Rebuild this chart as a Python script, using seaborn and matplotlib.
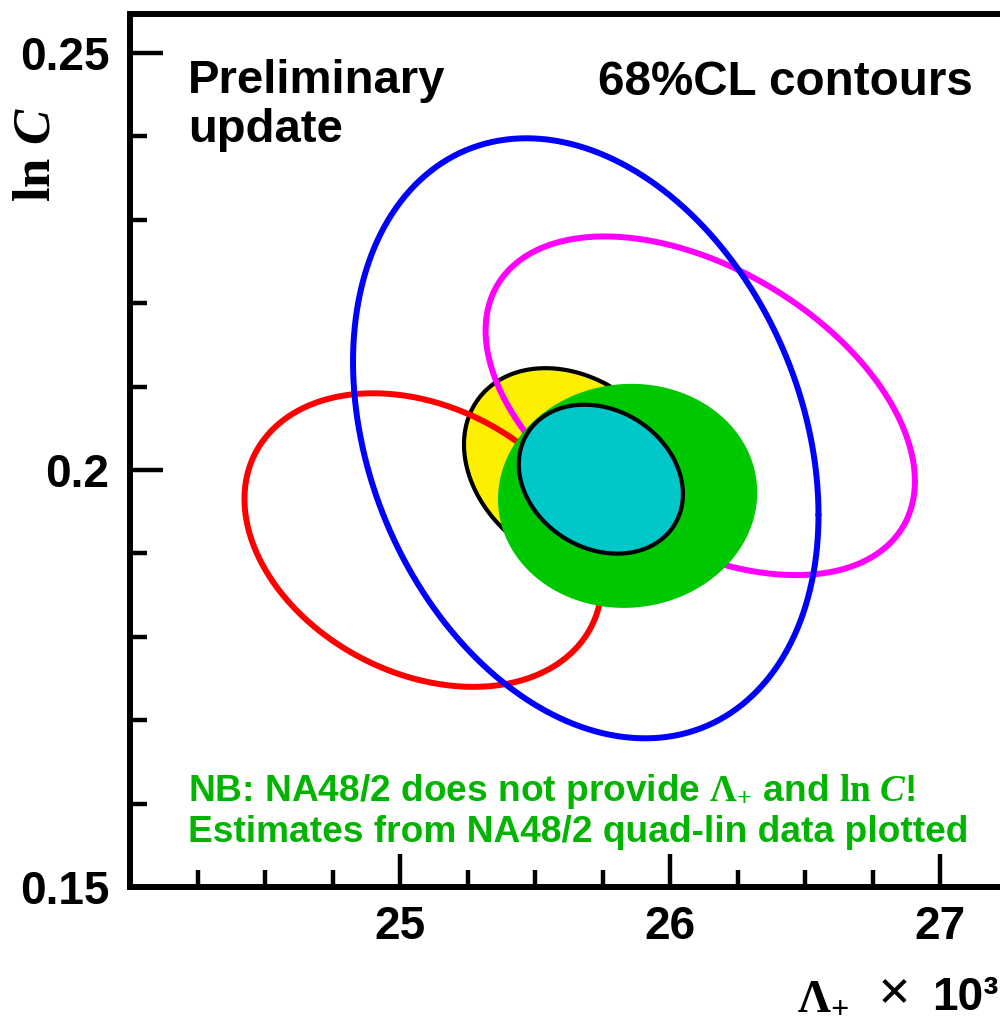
import numpy as np
import pandas as pd
import matplotlib
matplotlib.use("Agg")
import matplotlib.pyplot as plt
import seaborn as sns

# ---------------- data (68% CL contours: centre, widths, correlation) ----------------
contour_names = ["red", "blue", "magenta", "yellow", "green", "cyan"]
center_x = [25.086, 25.688, 26.112, 25.637, 25.843, 25.744]
center_y = [0.1916, 0.2038, 0.2077, 0.2001, 0.1969, 0.1989]
sigma_x = [0.662, 0.862, 0.795, 0.400, 0.480, 0.304]
sigma_y = [0.01760, 0.03597, 0.02030, 0.01211, 0.01343, 0.00893]
rho = [-0.28, -0.255, -0.445, -0.245, 0.03, -0.20]

x_major_ticks = [25, 26, 27]
x_tick_labels = ["25", "26", "27"]
y_major_ticks = [0.15, 0.20, 0.25]
y_tick_labels = ["0.15", "0.2", "0.25"]

# ---------------- style ----------------
sns.set_style("white")
plt.rcParams["font.family"] = ["Liberation Sans", "DejaVu Sans"]
plt.rcParams["text.color"] = "black"
plt.rcParams["xtick.color"] = "black"
plt.rcParams["ytick.color"] = "black"
plt.rcParams["mathtext.fontset"] = "custom"
plt.rcParams["mathtext.rm"] = "Liberation Serif:bold"
plt.rcParams["mathtext.it"] = "Liberation Serif:bold:italic"
plt.rcParams["mathtext.bf"] = "Liberation Serif:bold"

fig = plt.figure(figsize=(10, 10.19), dpi=100)
ax = fig.add_axes([0.13, 0.1295, 0.945, 0.857])


def contour(i, n=400):
    t = np.linspace(0, 2 * np.pi, n)
    r = rho[i]
    xs = center_x[i] + sigma_x[i] * np.cos(t)
    ys = center_y[i] + sigma_y[i] * (r * np.cos(t) + np.sqrt(1 - r * r) * np.sin(t))
    return pd.DataFrame({"x": xs, "y": ys})


def outline(d, color, lw, z):
    sns.lineplot(data=d, x="x", y="y", sort=False, estimator=None, errorbar=None,
                 color=color, lw=lw, ax=ax, zorder=z)


line_colors = {"red": "#ff0000", "blue": "#0000ff", "magenta": "#ff00ff"}

# yellow filled with black outline (bottom layer)
d = contour(contour_names.index("yellow"))
ax.fill(d["x"], d["y"], color="#fcf000", zorder=1, lw=0)
outline(d, "black", 3.0, 1.5)

# open contours
for name in ["red", "magenta", "blue"]:
    d = contour(contour_names.index(name))
    outline(d, line_colors[name], 4.3, 2)

# green filled
d = contour(contour_names.index("green"))
ax.fill(d["x"], d["y"], color="#00c800", zorder=3, lw=0)

# cyan filled with black outline
d = contour(contour_names.index("cyan"))
ax.fill(d["x"], d["y"], color="#00c8c8", zorder=4, lw=0)
outline(d, "black", 3.0, 4.5)

# ---------------- axes ----------------
ax.set_xlim(24.0, 27.5)
ax.set_ylim(0.15, 0.2547)
ax.set_xlabel("")
ax.set_ylabel("")
ax.set_xticks(x_major_ticks)
ax.set_xticklabels(x_tick_labels)
ax.set_yticks(y_major_ticks)
ax.set_yticklabels(y_tick_labels)
ax.set_xticks(np.arange(24.25, 27.5, 0.25), minor=True)
ax.set_yticks(np.arange(0.15, 0.2501, 0.01), minor=True)
ax.tick_params(which="both", direction="in", bottom=True, left=True, top=False,
               right=False, width=3.2, color="black", labelcolor="black")
ax.tick_params(which="major", length=24)
ax.tick_params(which="minor", length=12)
ax.tick_params(axis="y", which="major", pad=15)
ax.tick_params(axis="x", which="major", pad=13)
for lab in ax.get_xticklabels() + ax.get_yticklabels():
    lab.set_fontsize(33)
    lab.set_fontweight("bold")
for s in ax.spines.values():
    s.set_linewidth(4.3)
    s.set_color("black")

# ---------------- texts ----------------
def fx(px):
    return px / 1000.0


def fy(py):
    return 1 - py / 1019.0


fig.text(fx(188), fy(93), "Preliminary", fontsize=34, fontweight="bold", va="baseline")
fig.text(fx(188), fy(142), "update", fontsize=34, fontweight="bold", va="baseline")
fig.text(fx(598), fy(95), "68%CL contours", fontsize=34.3, fontweight="bold", va="baseline")

green_txt = "#00b400"
fig.text(fx(188), fy(801), r"NB: NA48/2 does not provide $\Lambda_{+}$ and $\mathrm{ln}\ C$!",
         fontsize=26.7, fontweight="bold", color=green_txt, va="baseline")
fig.text(fx(188), fy(842), "Estimates from NA48/2 quad-lin data plotted",
         fontsize=26.7, fontweight="bold", color=green_txt, va="baseline")

# axis titles
fig.text(fx(35), fy(154), r"$\mathrm{ln}\ C$", fontsize=38, rotation=90,
         ha="center", va="center")
fig.text(fx(797), fy(1010), r"$\Lambda_{+}$", fontsize=33, va="baseline")
fig.text(fx(892), fy(993), r"$\times$", fontsize=42, ha="center", va="center")
fig.text(fx(932), fy(1010), "10³", fontsize=33, fontweight="bold", va="baseline")

fig.savefig("out.png", dpi=100)
